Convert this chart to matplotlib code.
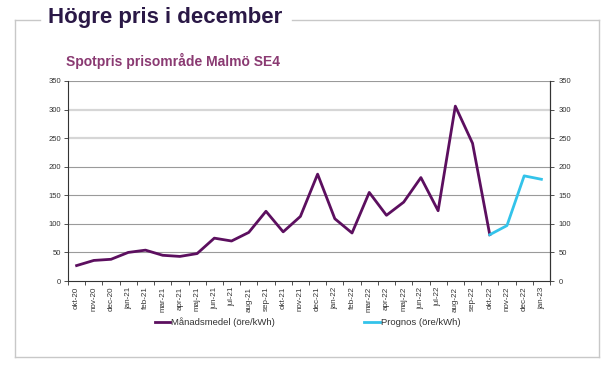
import matplotlib
matplotlib.use("Agg")
import matplotlib.pyplot as plt
import numpy as np
from matplotlib.lines import Line2D

plt.rcParams['font.family'] = ['Liberation Sans', 'DejaVu Sans']

months = ["okt-20", "nov-20", "dec-20", "jan-21", "feb-21", "mar-21", "apr-21",
          "maj-21", "jun-21", "jul-21", "aug-21", "sep-21", "okt-21", "nov-21",
          "dec-21", "jan-22", "feb-22", "mar-22", "apr-22", "maj-22", "jun-22",
          "jul-22", "aug-22", "sep-22", "okt-22", "nov-22", "dec-22", "jan-23"]

# monthly average spot price SE4, ore/kWh
manadsmedel = [27, 36, 38, 50, 54, 45, 43, 48, 75, 70, 85, 122, 86, 113,
               187, 109, 84, 155, 115, 138, 181, 123, 306, 241, 81]
# forecast, starts at okt-22
prognos = [81, 97, 184, 178]

x = np.arange(len(months))
mm = np.full(len(months), np.nan)
mm[:len(manadsmedel)] = manadsmedel
pg = np.full(len(months), np.nan)
pg[len(manadsmedel) - 1:] = prognos

purple = '#5c0f5f'
cyan = '#33c3ea'

fig = plt.figure(figsize=(6.15, 3.73), dpi=100)

# outer frame with gap for the heading
frame_col = '#c8c8c8'
fx0, fx1, fy0, fy1 = 15/615, 599/615, 1 - 357/373, 1 - 20/373
for xs, ys in [([fx0, fx0], [fy0, fy1]), ([fx0, fx1], [fy0, fy0]),
               ([fx1, fx1], [fy0, fy1]), ([fx0, 40/615], [fy1, fy1]),
               ([292/615, fx1], [fy1, fy1])]:
    fig.add_artist(Line2D(xs, ys, color=frame_col, lw=1.0, transform=fig.transFigure))

fig.text(48/615, 1 - 17/373, "Högre pris i december", fontsize=16, fontweight='bold',
         color='#2a1846', va='center', ha='left')
fig.text(66/615, 1 - 61/373, "Spotpris prisområde Malmö SE4", fontsize=10, fontweight='bold',
         color='#8a3a72', va='center', ha='left')

ax = fig.add_axes([68/615, 1 - 281/373, 482/615, 200/373])
ax.set_xlim(-0.5, len(months) - 0.5)
ax.set_ylim(0, 350)

# grid lines
for v in [50, 100, 150, 200]:
    ax.axhline(v, color='#9a9a9a', lw=0.8, zorder=1)
for v in [250, 300]:
    ax.axhline(v, color='#d6d6d6', lw=1.6, zorder=1)
ax.axhline(350, color='#9a9a9a', lw=0.8, zorder=1)

ax.plot(x, mm, color=purple, lw=2.0, zorder=3)
ax.plot(x, pg, color=cyan, lw=2.0, zorder=3)

ax.spines['top'].set_visible(False)
for s in ['left', 'right', 'bottom']:
    ax.spines[s].set_color('#333333')
    ax.spines[s].set_linewidth(0.8)

yt = np.arange(0, 351, 50)
ax.set_yticks(yt)
ax.set_yticklabels([str(v) for v in yt])
ax.tick_params(axis='y', labelsize=5.5, colors='#333333', length=3, width=0.6, pad=2)

ax.set_xticks(x)
ax.set_xticklabels(months, rotation=90)
ax.set_xticks(np.arange(-0.5, len(months), 1), minor=True)
ax.tick_params(axis='x', which='major', length=0, labelsize=5.8, colors='#333333', pad=4)
ax.tick_params(axis='x', which='minor', length=3, width=0.6, color='#333333')

ax2 = ax.twinx()
ax2.set_ylim(0, 350)
ax2.set_yticks(yt)
ax2.set_yticklabels([str(v) for v in yt])
ax2.tick_params(axis='y', labelsize=5.5, colors='#333333', length=3, width=0.6, pad=3)
for s in ['top', 'left', 'bottom']:
    ax2.spines[s].set_visible(False)
ax2.spines['right'].set_color('#333333')
ax2.spines['right'].set_linewidth(0.8)

# legend
handles = [Line2D([], [], color=purple, lw=2.0), Line2D([], [], color=cyan, lw=2.0)]
ax.legend(handles, ["Månadsmedel (öre/kWh)", "Prognos (öre/kWh)"],
          loc='center', bbox_to_anchor=(0.5, 1 - 322/373), bbox_transform=fig.transFigure,
          ncol=2, frameon=False, fontsize=6.8, handlelength=1.6, handletextpad=0.1,
          columnspacing=9.5, labelcolor='#333333')

fig.savefig("out.png", dpi=100, facecolor='white')
